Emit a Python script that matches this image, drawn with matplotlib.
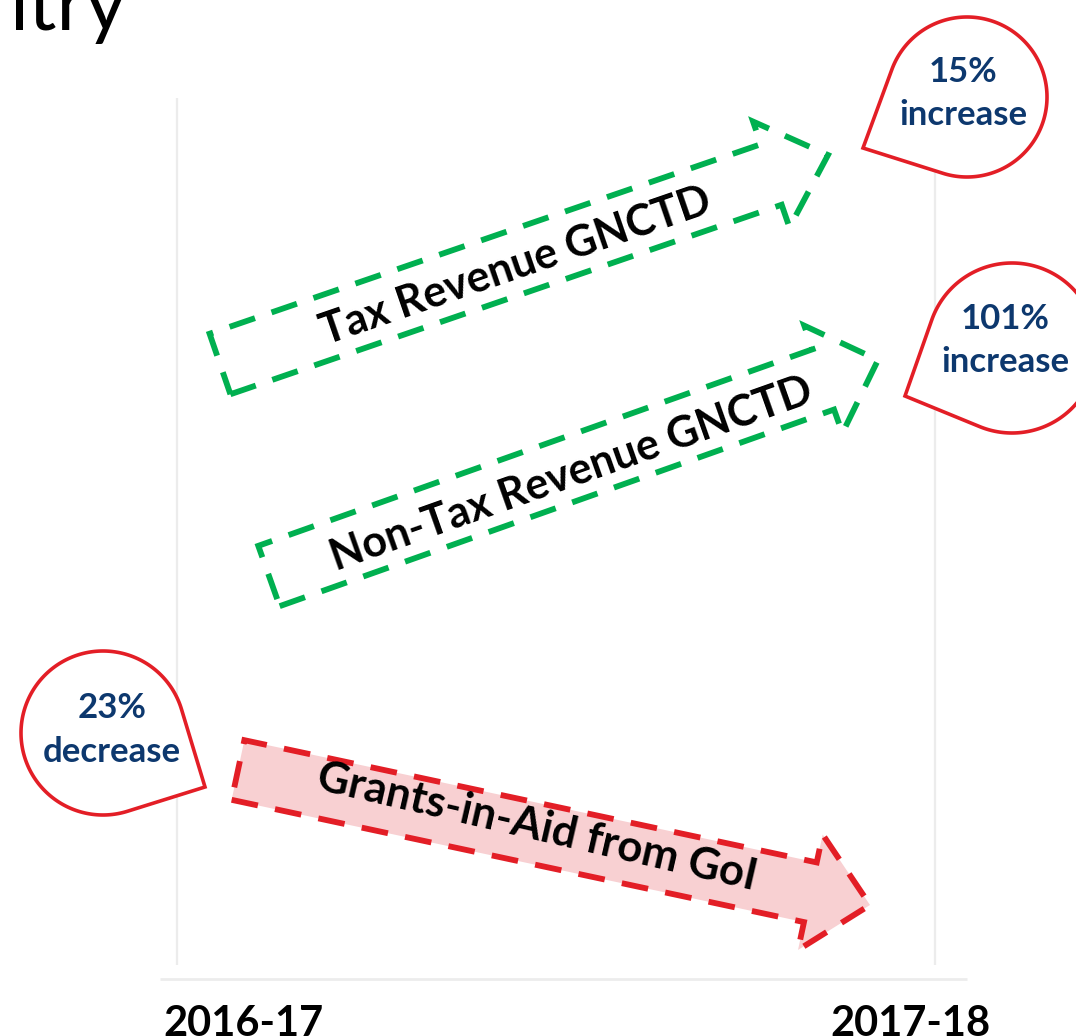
### Revenue change arrows, 2016-17 to 2017-18
import numpy as np
import matplotlib
matplotlib.use('Agg')
import matplotlib.pyplot as plt
from matplotlib.patches import Polygon

plt.rcParams['font.family'] = ['Lato', 'DejaVu Sans']

## Data
years = ['2016-17', '2017-18']
series = ['Tax Revenue GNCTD', 'Non-Tax Revenue GNCTD', 'Grants-in-Aid from GoI']
pct_change = [15, 101, -23]
title_tail = 'itry'

## Layout (axes units match pixels, y grows downward)
W, H = 1076, 1036
year_x = [177, 935]
year_label_x = [243, 910]
grid_top = [98, 98]
base_y = 979

arrow_tail = [(220, 364), (269, 576), (238, 770)]
arrow_tip = [(828, 155), (878, 360), (870, 905)]
shaft_w = [64, 64, 61]
head_w = [112, 114, 118]
head_len = [60, 58, 61]
text_xy = [(516, 266), (571, 474), (537, 827)]
text_rot = [19, 19.5, -13]
text_size = [31, 31, 31.5]

bubble_c = [(967, 97), (1012, 348), (103, 733)]
bubble_r = [80, 85, 82]
bubble_tip = [(863, 148), (905, 396), (205, 787)]
bubble_txt_x = [963, 1005, 112]
bubble_base1 = [82, 329, 718]
bubble_base2 = [125, 372, 762]

green = '#00B050'
red = '#E31E26'
pink = '#F8D0D2'
navy = '#0D386E'
grid_col = '#ECECEC'


def arrow_points(tail, tip, sw, hw, hl):
    t = np.array(tail, float)
    p = np.array(tip, float)
    u = (p - t) / np.hypot(*(p - t))
    n = np.array([-u[1], u[0]])
    b = p - u * hl
    return np.array([t + n * sw / 2, b + n * sw / 2, b + n * hw / 2, p,
                     b - n * hw / 2, b - n * sw / 2, t - n * sw / 2])


def teardrop_points(c, r, tip):
    c = np.array(c, float)
    t = np.array(tip, float)
    d = np.hypot(*(t - c))
    theta = np.arctan2(t[1] - c[1], t[0] - c[0])
    alpha = np.arccos(r / d)
    phi = np.linspace(theta + alpha, theta - alpha + 2 * np.pi, 200)
    arc = np.column_stack([c[0] + r * np.cos(phi), c[1] + r * np.sin(phi)])
    return np.vstack([t, arc])


fig = plt.figure(figsize=(W / 100, H / 100), dpi=100)
ax = fig.add_axes([0, 0, 1, 1])
ax.set_xlim(0, W)
ax.set_ylim(H, 0)
ax.axis('off')

## Grid and base line
ax.vlines(year_x, grid_top, base_y - 14, color=grid_col, lw=1.6, zorder=1)
ax.hlines(base_y, 160, 967, color=grid_col, lw=2, zorder=1)

## Year labels
for x, lab in zip(year_label_x, years):
    ax.text(x, 1036, lab, ha='center', va='baseline', fontsize=30,
            fontweight='bold', color='black')

## Cut-off title
ax.text(10, 30, title_tail, ha='left', va='baseline', fontsize=57, color='black')

## Arrows
for i, name in enumerate(series):
    up = pct_change[i] > 0
    pts = arrow_points(arrow_tail[i], arrow_tip[i], shaft_w[i], head_w[i], head_len[i])
    if not up:
        ax.add_patch(Polygon(pts, closed=True, facecolor=pink, edgecolor='none', zorder=2))
    ax.add_patch(Polygon(pts, closed=True, facecolor='none',
                         edgecolor=green if up else red, lw=4.2,
                         linestyle=(0, (4.6, 3.0)), joinstyle='miter', zorder=3))
    ax.text(text_xy[i][0], text_xy[i][1], name, rotation=text_rot[i],
            rotation_mode='anchor', ha='center', va='center', fontsize=text_size[i],
            fontweight='bold', color='black', zorder=4)

## Callout bubbles
for i, p in enumerate(pct_change):
    pts = teardrop_points(bubble_c[i], bubble_r[i], bubble_tip[i])
    ax.add_patch(Polygon(pts, closed=True, facecolor='white', edgecolor=red,
                         lw=2.6, joinstyle='miter', zorder=5, clip_on=False))
    word = 'increase' if p > 0 else 'decrease'
    ax.text(bubble_txt_x[i], bubble_base1[i], str(abs(p)) + '%', ha='center',
            va='baseline', fontsize=25, fontweight='bold', color=navy, zorder=6)
    ax.text(bubble_txt_x[i], bubble_base2[i], word, ha='center',
            va='baseline', fontsize=25, fontweight='bold', color=navy, zorder=6)

fig.savefig('out.png', dpi=100)
